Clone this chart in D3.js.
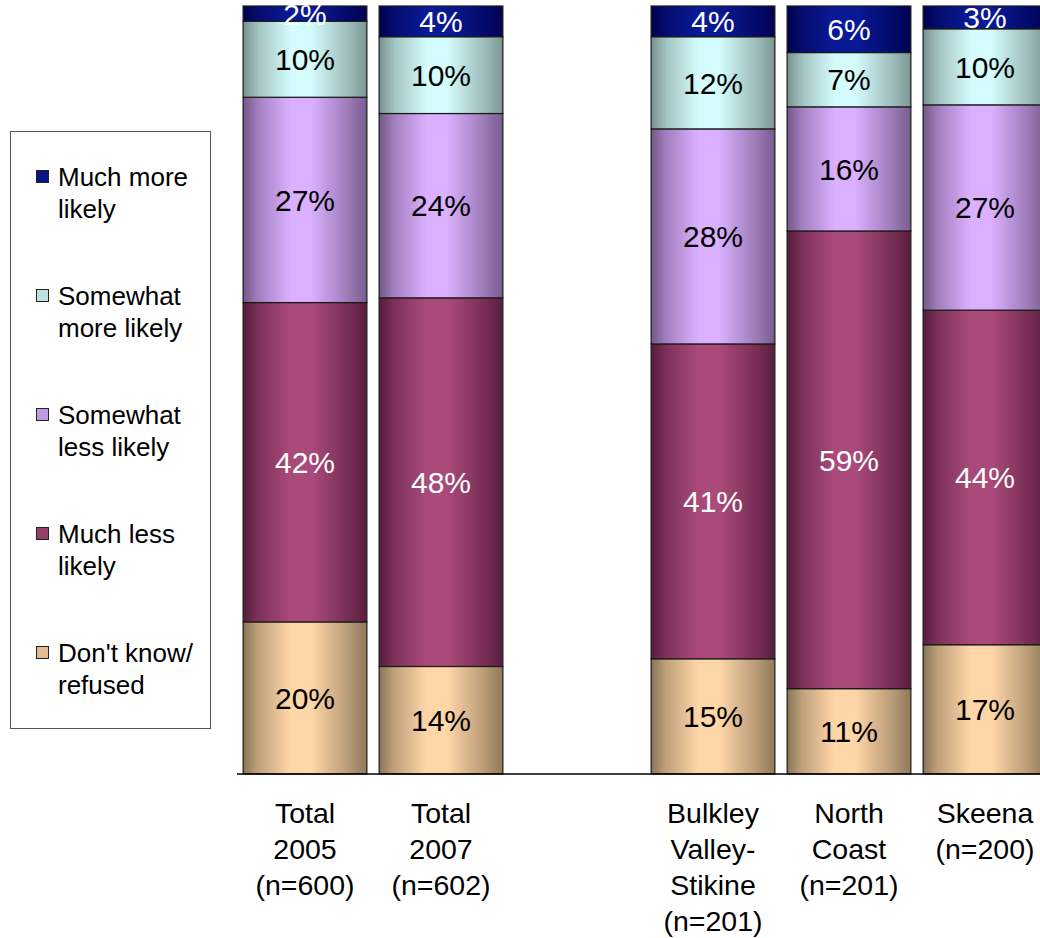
<!DOCTYPE html>
<html>
<head>
<meta charset="utf-8">
<script src="https://cdn.jsdelivr.net/npm/d3@7"></script>
<style>
  html, body { margin: 0; padding: 0; background: #fff; }
  svg { display: block; font-family: "Liberation Sans", Arial, sans-serif; }
</style>
</head>
<body>
<svg id="chart" width="1040" height="938"></svg>
<script>
// ---- data ----
const categories = ["Total 2005", "Total 2007", "Bulkley Valley-Stikine", "North Coast", "Skeena"];
const categoryLabels = [
  ["Total", "2005", "(n=600)"],
  ["Total", "2007", "(n=602)"],
  ["Bulkley", "Valley-", "Stikine", "(n=201)"],
  ["North", "Coast", "(n=201)"],
  ["Skeena", "(n=200)"]
];
const seriesNames = ["Don't know/ refused", "Much less likely", "Somewhat less likely", "Somewhat more likely", "Much more likely"];
const dontKnow     = [20, 14, 15, 11, 17];
const muchLess     = [42, 48, 41, 59, 44];
const somewhatLess = [27, 24, 28, 16, 27];
const somewhatMore = [10, 10, 12, 7, 10];
const muchMore     = [2, 4, 4, 6, 3];
const legendLines = [
  ["Much more", "likely"],
  ["Somewhat", "more likely"],
  ["Somewhat", "less likely"],
  ["Much less", "likely"],
  ["Don't know/", "refused"]
];

// ---- styles ----
const colors = {
  "Don't know/ refused":   { dark: "#8a7356", light: "#ffd6a8", text: "#000" },
  "Much less likely":      { dark: "#561c3c", light: "#aa4a7a", text: "#fff" },
  "Somewhat less likely":  { dark: "#735789", light: "#dab0ff", text: "#000" },
  "Somewhat more likely":  { dark: "#78928e", light: "#d4fcfc", text: "#000" },
  "Much more likely":      { dark: "#00004e", light: "#0a1a96", text: "#fff" }
};

const seriesValues = [dontKnow, muchLess, somewhatLess, somewhatMore, muchMore];
const rows = categories.map((c, i) => {
  const r = { category: c };
  seriesNames.forEach((s, k) => r[s] = seriesValues[k][i]);
  return r;
});

const svg = d3.select("#chart");
const defs = svg.append("defs");
seriesNames.forEach((s, k) => {
  const g = defs.append("linearGradient").attr("id", "grad" + k)
    .attr("x1", "0%").attr("x2", "100%").attr("y1", "0%").attr("y2", "0%");
  const c = colors[s];
  const mid = d3.interpolateRgb(c.dark, c.light);
  [[0, 0], [0.12, 0.45], [0.38, 1], [0.55, 1], [0.85, 0.4], [1, 0.05]].forEach(([o, t]) =>
    g.append("stop").attr("offset", o * 100 + "%").attr("stop-color", mid(t)));
});

const xDomain = [categories[0], categories[1], "__gap__", categories[2], categories[3], categories[4]];
const x = d3.scaleBand().domain(xDomain).range([237, 1053]).paddingInner(0.09).paddingOuter(0.045);
const y = d3.scaleLinear().domain([0, 1]).range([774, 6]);

const stack = d3.stack().keys(seriesNames).offset(d3.stackOffsetExpand);
const stacked = stack(rows);

const layers = svg.append("g").selectAll("g").data(stacked).join("g")
  .attr("fill", (d, k) => `url(#grad${k})`);

layers.selectAll("rect").data(d => d).join("rect")
  .attr("x", d => x(d.data.category))
  .attr("width", x.bandwidth())
  .attr("y", d => y(d[1]))
  .attr("height", d => y(d[0]) - y(d[1]))
  .attr("stroke", "#1a1a1a")
  .attr("stroke-width", 1.2);

// value labels
stacked.forEach((layer, k) => {
  const s = seriesNames[k];
  svg.append("g").selectAll("text").data(layer).join("text")
    .attr("x", d => x(d.data.category) + x.bandwidth() / 2)
    .attr("y", d => Math.max((y(d[0]) + y(d[1])) / 2, 14))
    .attr("dy", "0.36em")
    .attr("text-anchor", "middle")
    .attr("font-size", 30)
    .attr("fill", colors[s].text)
    .text(d => d.data[s] + "%");
});

// axis line
const xAxis = d3.axisBottom(x).tickSize(0).tickFormat("");
const axisG = svg.append("g").attr("transform", "translate(0,774)").call(xAxis);
axisG.select(".domain").attr("d", "M237,0H1040").attr("stroke", "#000").attr("stroke-width", 1.5);

// category labels
categories.forEach((c, i) => {
  const t = svg.append("text")
    .attr("x", x(c) + x.bandwidth() / 2)
    .attr("y", 823)
    .attr("text-anchor", "middle")
    .attr("font-size", 28.5)
    .attr("fill", "#000");
  categoryLabels[i].forEach((line, j) => {
    t.append("tspan").attr("x", x(c) + x.bandwidth() / 2).attr("dy", j === 0 ? 0 : 36).text(line);
  });
});

// legend
const legend = svg.append("g");
legend.append("rect").attr("x", 10.5).attr("y", 131.5).attr("width", 200).attr("height", 597)
  .attr("fill", "#fff").attr("stroke", "#555").attr("stroke-width", 1);
const legendOrder = [4, 3, 2, 1, 0];
legendOrder.forEach((k, i) => {
  const s = seriesNames[k];
  const cy = 177 + i * 119;
  legend.append("rect").attr("x", 36.5).attr("y", cy - 6.5).attr("width", 12).attr("height", 12)
    .attr("fill", d3.interpolateRgb(colors[s].dark, colors[s].light)(0.75))
    .attr("stroke", "#222").attr("stroke-width", 1);
  const t = legend.append("text").attr("x", 58).attr("y", cy + 9)
    .attr("font-size", 26).attr("fill", "#000");
  legendLines[i].forEach((line, j) => {
    t.append("tspan").attr("x", 58).attr("dy", j === 0 ? 0 : 32).text(line);
  });
});
</script>
</body>
</html>
